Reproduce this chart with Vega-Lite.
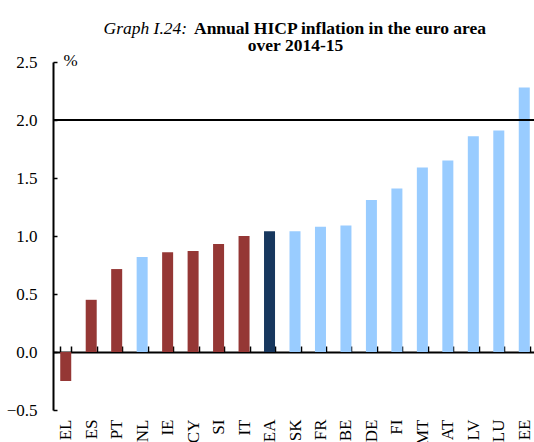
{
  "$schema": "https://vega.github.io/schema/vega-lite/v6.json",
  "width": 484,
  "height": 348,
  "autosize": {"type": "none"},
  "padding": {"left": 53, "top": 62, "right": 0, "bottom": 32},
  "config": {
    "view": {"stroke": null},
    "font": "Liberation Serif",
    "axis": {
      "labelFont": "Liberation Serif",
      "titleFont": "Liberation Serif",
      "labelColor": "black",
      "titleColor": "black",
      "domainColor": "black",
      "tickColor": "black"
    }
  },
  "title": {
    "text": "Annual HICP inflation in the euro area",
    "anchor": "start",
    "frame": "group",
    "dx": 141,
    "baseline": "alphabetic",
    "offset": -32.5,
    "font": "Liberation Serif",
    "fontSize": 17.5,
    "fontWeight": "bold",
    "color": "black"
  },
  "data": {
    "values": [
      {"country": "EL", "value": -0.25, "group": "red"},
      {"country": "ES", "value": 0.45, "group": "red"},
      {"country": "PT", "value": 0.715, "group": "red"},
      {"country": "NL", "value": 0.82, "group": "blue"},
      {"country": "IE", "value": 0.86, "group": "red"},
      {"country": "CY", "value": 0.87, "group": "red"},
      {"country": "SI", "value": 0.93, "group": "red"},
      {"country": "IT", "value": 1.0, "group": "red"},
      {"country": "EA", "value": 1.04, "group": "ea"},
      {"country": "SK", "value": 1.04, "group": "blue"},
      {"country": "FR", "value": 1.08, "group": "blue"},
      {"country": "BE", "value": 1.09, "group": "blue"},
      {"country": "DE", "value": 1.31, "group": "blue"},
      {"country": "FI", "value": 1.41, "group": "blue"},
      {"country": "MT", "value": 1.59, "group": "blue"},
      {"country": "AT", "value": 1.65, "group": "blue"},
      {"country": "LV", "value": 1.86, "group": "blue"},
      {"country": "LU", "value": 1.91, "group": "blue"},
      {"country": "EE", "value": 2.28, "group": "blue"}
    ]
  },
  "layer": [
    {
      "mark": {"type": "bar"},
      "encoding": {
        "x": {
          "field": "country",
          "type": "nominal",
          "sort": null,
          "scale": {"paddingInner": 0.568, "paddingOuter": 0.284},
          "axis": {
            "orient": "bottom",
            "offset": -58,
            "domainWidth": 2,
            "tickBand": "extent",
            "tickSize": -6,
            "tickWidth": 1.5,
            "labelAngle": -90,
            "labelAlign": "right",
            "labelBaseline": "middle",
            "labelPadding": 73,
            "labelFontSize": 17,
            "title": "over 2014-15",
            "titleFontSize": 17.5,
            "titleFontWeight": "bold",
            "titleX": 242,
            "titleY": -302,
            "titleAlign": "center",
            "titleBaseline": "alphabetic",
            "titleAngle": 0
          }
        },
        "y": {
          "field": "value",
          "type": "quantitative",
          "scale": {"domain": [-0.5, 2.5], "nice": false, "zero": false},
          "axis": {
            "orient": "left",
            "values": [-0.5, 0, 0.5, 1, 1.5, 2, 2.5],
            "format": ".1f",
            "grid": false,
            "domainWidth": 2,
            "tickSize": -4,
            "tickWidth": 1.5,
            "labelPadding": 20,
            "labelFontSize": 17,
            "title": "%",
            "titleFontSize": 17,
            "titleFontWeight": "normal",
            "titleAngle": 0,
            "titleX": 10,
            "titleY": 3,
            "titleAlign": "left",
            "titleBaseline": "alphabetic"
          }
        },
        "color": {
          "field": "group",
          "type": "nominal",
          "scale": {"domain": ["red", "blue", "ea"], "range": ["#953735", "#99CCFF", "#17375E"]},
          "legend": null
        }
      }
    },
    {
      "mark": {"type": "rule", "color": "black", "strokeWidth": 2},
      "encoding": {
        "y": {
          "datum": 2,
          "type": "quantitative",
          "axis": {
            "orient": "right",
            "labels": false,
            "ticks": false,
            "domain": false,
            "grid": false,
            "title": "Graph I.24:",
            "titleFontSize": 17.5,
            "titleFontStyle": "italic",
            "titleFontWeight": "normal",
            "titleAngle": 0,
            "titleX": -434,
            "titleY": -29,
            "titleAlign": "left",
            "titleBaseline": "alphabetic"
          }
        }
      }
    }
  ]
}
